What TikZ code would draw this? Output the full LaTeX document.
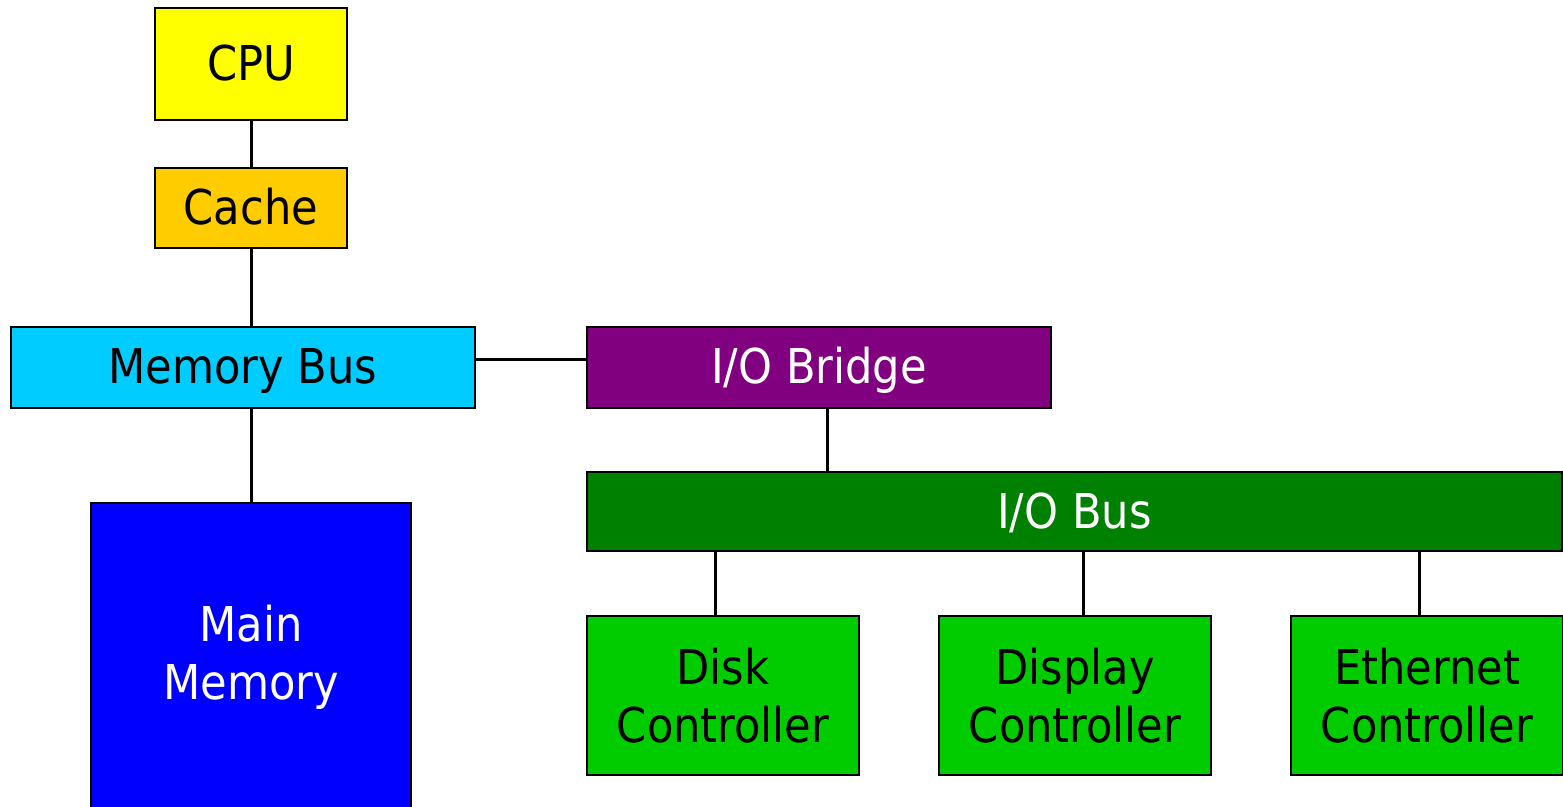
\documentclass[tikz,border=0pt]{standalone}
\usepackage{fontspec}
\setmainfont{DejaVu Sans Condensed}
\usetikzlibrary{positioning,calc}
\definecolor{hwYellow}{HTML}{FFFF00}
\definecolor{hwAmber}{HTML}{FFCC00}
\definecolor{hwSky}{HTML}{00CCFF}
\definecolor{hwPurple}{HTML}{800080}
\definecolor{hwBlue}{HTML}{0000FF}
\definecolor{hwDkGreen}{HTML}{008000}
\definecolor{hwGreen}{HTML}{00CC00}

\begin{document}
\begin{tikzpicture}[
    x=0.5pt, y=-0.5pt,
    font=\fontsize{24}{29}\selectfont,
    blk/.style={draw=black, line width=1.1pt, fill=#1, inner sep=0pt,
                align=center},
    wblk/.style={blk=#1, text=white},
    oneline/.style={text height=16.5pt, text depth=0pt},
    wire/.style={line width=1.5pt},
  ]
  \useasboundingbox (0,0) rectangle (1563,807);
  \clip (0,0) rectangle (1563,807);
  % processor side
  \node[blk=hwYellow, oneline, minimum width=96pt, minimum height=56pt]    (cpu)    at (251,64)     {CPU};
  \node[blk=hwAmber, oneline, minimum width=96pt, minimum height=40pt]     (cache)  at (251,208)    {Cache};
  \node[blk=hwSky, oneline, minimum width=232pt, minimum height=40.5pt]    (membus) at (243,367.5)  {Memory Bus};
  \node[wblk=hwBlue, minimum width=160pt, minimum height=154.5pt] (mainmem) at (251,657.5) {Main\\Memory};
  % I/O side
  \node[wblk=hwPurple, oneline, minimum width=232pt, minimum height=40.5pt]  (bridge) at (819,367.5)  {I/O Bridge};
  \node[wblk=hwDkGreen, oneline, minimum width=487.5pt, minimum height=39.5pt] (iobus) at (1074.5,511.5) {I/O Bus};
  % controllers
  \node[blk=hwGreen, minimum width=136pt, minimum height=79.5pt] (disk)    at (723,695.5)  {Disk\\Controller};
  \node[blk=hwGreen, minimum width=136pt, minimum height=79.5pt] (display) at (1075,695.5) {Display\\Controller};
  \node[blk=hwGreen, minimum width=136pt, minimum height=79.5pt] (ether)   at (1427,695.5) {Ethernet\\Controller};
  % wires
  \draw[wire] (cpu) -- (cache);
  \draw[wire] (cache.south) -- (cache.south |- membus.north);
  \draw[wire] (mainmem.north) -- (mainmem.north |- membus.south);
  \draw[wire] ([yshift=3.75pt]membus.east) -- ([yshift=3.75pt]bridge.west);
  \draw[wire] ([xshift=4pt]bridge.south) -- ([xshift=4pt]bridge.south |- iobus.north);
  \draw[wire] ([xshift=-4pt]disk.north) -- ([xshift=-4pt]disk.north |- iobus.south);
  \draw[wire] ([xshift=4pt]display.north) -- ([xshift=4pt]display.north |- iobus.south);
  \draw[wire] ([xshift=-4pt]ether.north) -- ([xshift=-4pt]ether.north |- iobus.south);
\end{tikzpicture}
\end{document}
